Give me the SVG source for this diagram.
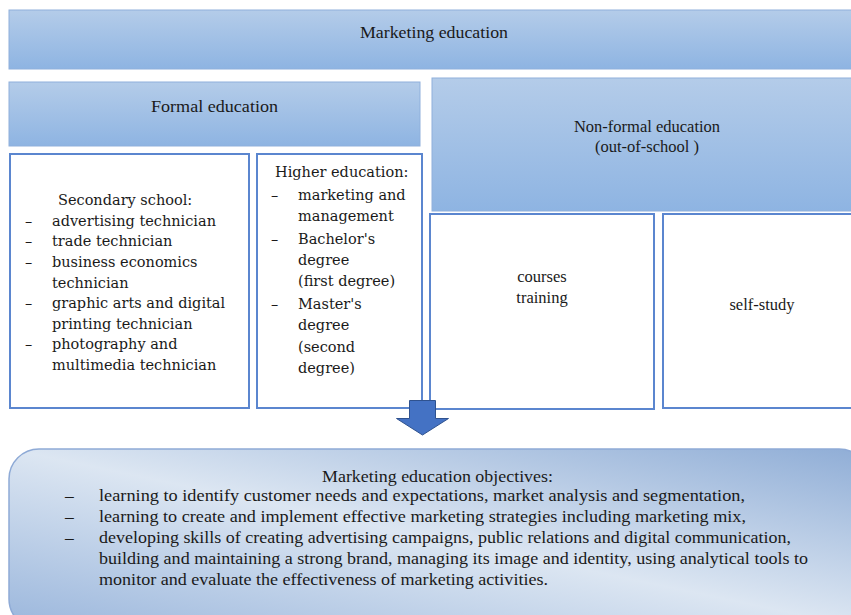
<svg xmlns="http://www.w3.org/2000/svg" width="851" height="615" viewBox="0 0 851 615">
  <defs>
    <linearGradient id="headFill" x1="0" y1="0" x2="0" y2="1">
      <stop offset="0" stop-color="#b4cce9"/>
      <stop offset="1" stop-color="#8eb4e2"/>
    </linearGradient>
    <linearGradient id="goalFill" x1="1" y1="0" x2="0" y2="1">
      <stop offset="0" stop-color="#8fadd6"/>
      <stop offset="0.5" stop-color="#dce6f2"/>
      <stop offset="1" stop-color="#9ab6dc"/>
    </linearGradient>
    <style>
      .head { fill: url(#headFill); stroke: #8fb0dc; stroke-width: 1; }
      .card { fill: #ffffff; stroke: #5b86cf; stroke-width: 2; }
      .cam { font-family: "DejaVu Serif", serif; font-size: 14.5px; fill: #1a1a1a; }
      .cnd { font-family: "Liberation Serif", serif; font-size: 17.5px; fill: #1a1a1a; }
      .tms { font-family: "Liberation Serif", serif; font-size: 16.5px; fill: #1a1a1a; }
      .mid { text-anchor: middle; }
    </style>
  </defs>

  <rect width="851" height="615" fill="#ffffff"/>

  <g id="marketing-education">
    <rect class="head" x="9" y="10" width="850" height="59"/>
    <text class="cnd" x="360" y="38" textLength="148" lengthAdjust="spacingAndGlyphs">Marketing education</text>
  </g>

  <g id="formal-education">
    <rect class="head" x="9" y="82" width="411" height="64"/>
    <text class="cnd" x="151" y="112" textLength="127" lengthAdjust="spacingAndGlyphs">Formal education</text>
  </g>

  <g id="non-formal-education">
    <rect class="head" x="432" y="78" width="427" height="133"/>
    <text class="tms mid" x="647" y="132">Non-formal education</text>
    <text class="tms mid" x="647" y="152">(out-of-school )</text>
  </g>

  <g id="secondary-school">
    <rect class="card" x="10" y="154" width="239" height="254"/>
    <text class="cam" x="58" y="205">Secondary school:</text>
    <text class="cam" x="25" y="226">–</text><text class="cam" x="52" y="226">advertising technician</text>
    <text class="cam" x="25" y="246">–</text><text class="cam" x="52" y="246">trade technician</text>
    <text class="cam" x="25" y="267">–</text><text class="cam" x="52" y="267">business economics</text>
    <text class="cam" x="52" y="288">technician</text>
    <text class="cam" x="25" y="308">–</text><text class="cam" x="52" y="308">graphic arts and digital</text>
    <text class="cam" x="52" y="329">printing technician</text>
    <text class="cam" x="25" y="349">–</text><text class="cam" x="52" y="349">photography and</text>
    <text class="cam" x="52" y="370">multimedia technician</text>
  </g>

  <g id="higher-education">
    <rect class="card" x="257" y="154" width="165" height="254"/>
    <text class="cam" x="275" y="177">Higher education:</text>
    <text class="cam" x="271" y="200">–</text><text class="cam" x="298" y="200">marketing and</text>
    <text class="cam" x="298" y="221">management</text>
    <text class="cam" x="271" y="244">–</text><text class="cam" x="298" y="244">Bachelor's</text>
    <text class="cam" x="298" y="265">degree</text>
    <text class="cam" x="298" y="286">(first degree)</text>
    <text class="cam" x="271" y="309">–</text><text class="cam" x="298" y="309">Master's</text>
    <text class="cam" x="298" y="330">degree</text>
    <text class="cam" x="298" y="352">(second</text>
    <text class="cam" x="298" y="373">degree)</text>
  </g>

  <g id="courses-training">
    <rect class="card" x="430" y="214" width="224" height="195"/>
    <text class="tms mid" x="542" y="282">courses</text>
    <text class="tms mid" x="542" y="303">training</text>
  </g>

  <g id="self-study">
    <rect class="card" x="663" y="214" width="196" height="194"/>
    <text class="tms mid" x="762" y="310">self-study</text>
  </g>

  <g id="connectors">
    <path d="M409.5,400.5 H435.5 V418.5 H448.5 L422.5,435 L396.5,418.5 H409.5 Z" fill="#4472c4" stroke="#2f528f" stroke-width="1"/>
  </g>

  <g id="objectives">
    <rect x="9" y="449" width="860" height="180" rx="30" ry="30" fill="url(#goalFill)" stroke="#8eaad6" stroke-width="1.5"/>
    <text class="cnd" x="322" y="482" textLength="231" lengthAdjust="spacingAndGlyphs">Marketing education objectives:</text>
    <text class="cnd" x="65" y="501">–</text>
    <text class="cnd" x="99" y="501" textLength="646" lengthAdjust="spacingAndGlyphs">learning to identify customer needs and expectations, market analysis and segmentation,</text>
    <text class="cnd" x="65" y="522">–</text>
    <text class="cnd" x="99" y="522" textLength="647" lengthAdjust="spacingAndGlyphs">learning to create and implement effective marketing strategies including marketing mix,</text>
    <text class="cnd" x="65" y="543">–</text>
    <text class="cnd" x="99" y="543" textLength="692" lengthAdjust="spacingAndGlyphs">developing skills of creating advertising campaigns, public relations and digital communication,</text>
    <text class="cnd" x="99" y="564" textLength="709" lengthAdjust="spacingAndGlyphs">building and maintaining a strong brand, managing its image and identity, using analytical tools to</text>
    <text class="cnd" x="99" y="585" textLength="449" lengthAdjust="spacingAndGlyphs">monitor and evaluate the effectiveness of marketing activities.</text>
  </g>
</svg>
